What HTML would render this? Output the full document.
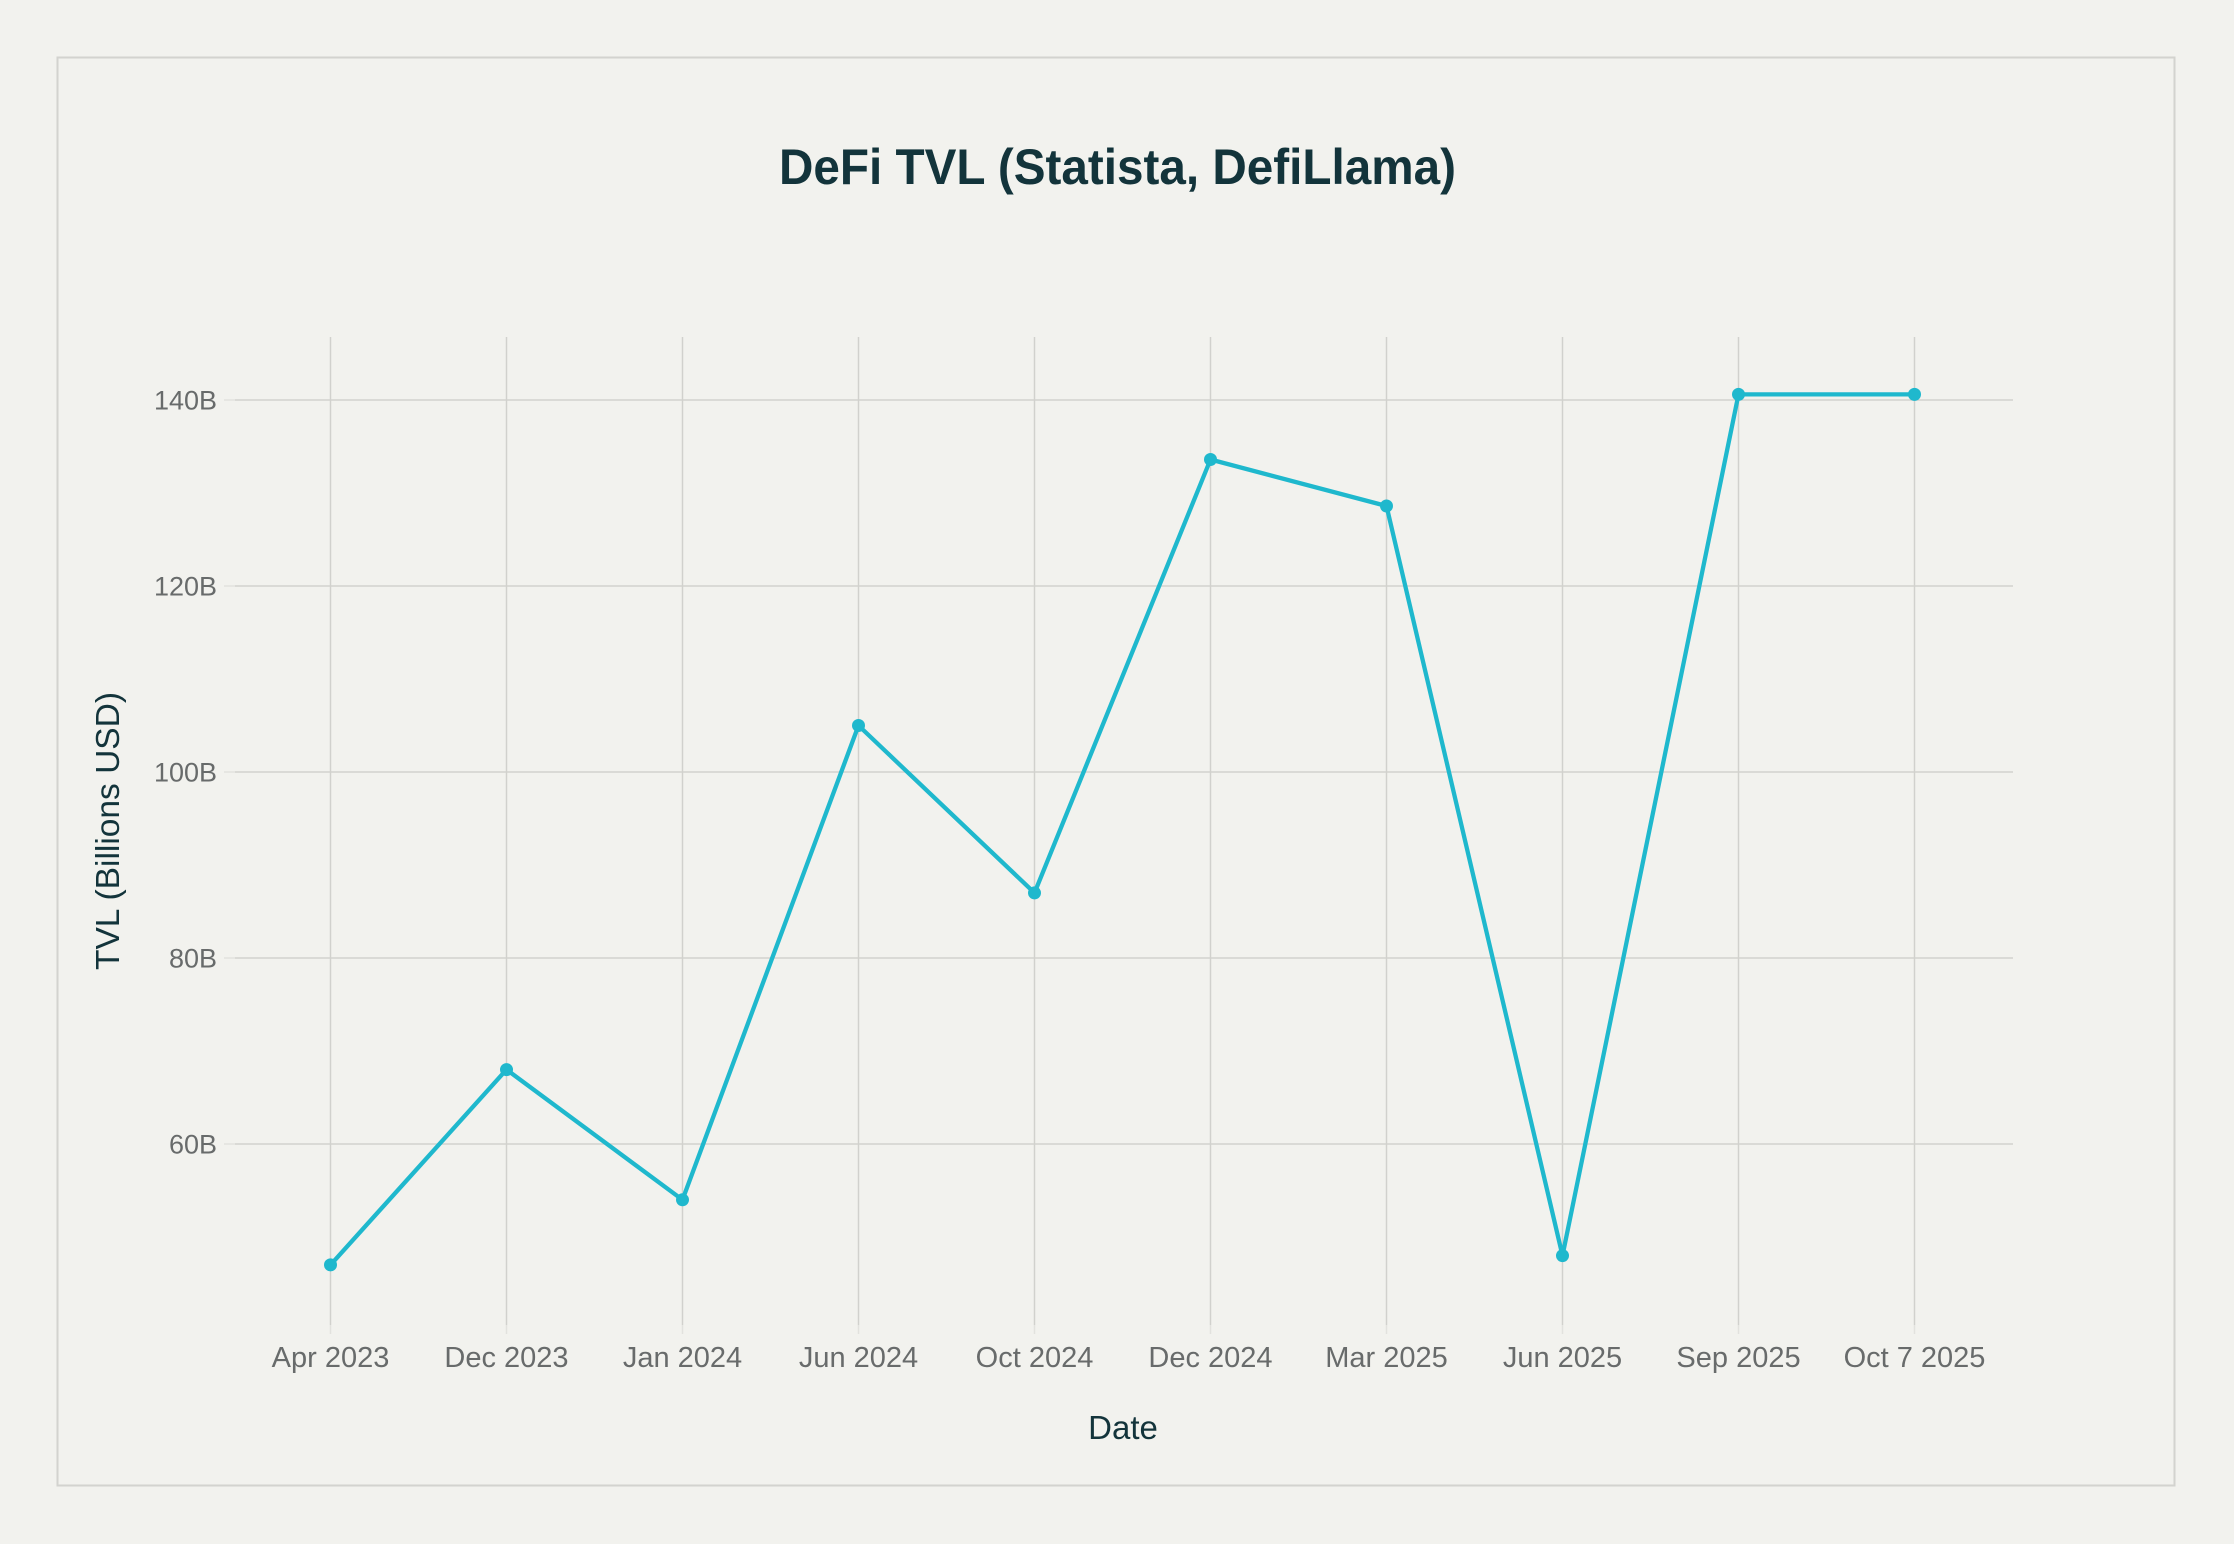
<!DOCTYPE html>
<html>
<head>
<meta charset="utf-8">
<style>
  html, body { margin: 0; padding: 0; background: #f2f2ee; }
  svg { display: block; }
</style>
</head>
<body>
<svg width="2234" height="1544" viewBox="0 0 2234 1544" xmlns="http://www.w3.org/2000/svg">
  <rect x="0" y="0" width="2234" height="1544" fill="#f2f2ee"/>
  <rect x="57.5" y="57.5" width="2117" height="1428" fill="#f2f2ee" stroke="#d3d3cf" stroke-width="2"/>

  <!-- Title -->
  <text x="1117.5" y="184" text-anchor="middle" font-family="Liberation Sans, sans-serif" font-weight="bold" font-size="50" fill="#13343b" textLength="677" lengthAdjust="spacingAndGlyphs">DeFi TVL (Statista, DefiLlama)</text>

  <!-- Horizontal gridlines -->
  <g stroke="#d1d1cd" stroke-width="1.5">
    <line x1="235" y1="400" x2="2013" y2="400"/>
    <line x1="235" y1="586" x2="2013" y2="586"/>
    <line x1="235" y1="772" x2="2013" y2="772"/>
    <line x1="235" y1="958" x2="2013" y2="958"/>
    <line x1="235" y1="1144" x2="2013" y2="1144"/>
  </g>
  <!-- y ticks -->
  <g stroke="#e2e2de" stroke-width="1.5">
    <line x1="224" y1="400" x2="235" y2="400"/>
    <line x1="224" y1="586" x2="235" y2="586"/>
    <line x1="224" y1="772" x2="235" y2="772"/>
    <line x1="224" y1="958" x2="235" y2="958"/>
    <line x1="224" y1="1144" x2="235" y2="1144"/>
  </g>

  <!-- Vertical gridlines -->
  <g stroke="#d1d1cd" stroke-width="1.5">
    <line x1="330.5" y1="337" x2="330.5" y2="1325"/>
    <line x1="506.5" y1="337" x2="506.5" y2="1325"/>
    <line x1="682.5" y1="337" x2="682.5" y2="1325"/>
    <line x1="858.5" y1="337" x2="858.5" y2="1325"/>
    <line x1="1034.5" y1="337" x2="1034.5" y2="1325"/>
    <line x1="1210.5" y1="337" x2="1210.5" y2="1325"/>
    <line x1="1386.5" y1="337" x2="1386.5" y2="1325"/>
    <line x1="1562.5" y1="337" x2="1562.5" y2="1325"/>
    <line x1="1738.5" y1="337" x2="1738.5" y2="1325"/>
    <line x1="1914.5" y1="337" x2="1914.5" y2="1325"/>
  </g>
  <g stroke="#e2e2de" stroke-width="1.5">
    <line x1="330.5" y1="1325" x2="330.5" y2="1334"/>
    <line x1="506.5" y1="1325" x2="506.5" y2="1334"/>
    <line x1="682.5" y1="1325" x2="682.5" y2="1334"/>
    <line x1="858.5" y1="1325" x2="858.5" y2="1334"/>
    <line x1="1034.5" y1="1325" x2="1034.5" y2="1334"/>
    <line x1="1210.5" y1="1325" x2="1210.5" y2="1334"/>
    <line x1="1386.5" y1="1325" x2="1386.5" y2="1334"/>
    <line x1="1562.5" y1="1325" x2="1562.5" y2="1334"/>
    <line x1="1738.5" y1="1325" x2="1738.5" y2="1334"/>
    <line x1="1914.5" y1="1325" x2="1914.5" y2="1334"/>
  </g>

  <!-- Y tick labels -->
  <g font-family="Liberation Sans, sans-serif" font-size="27" fill="#686b6b" text-anchor="end">
    <text x="217" y="409.5">140B</text>
    <text x="217" y="595.5">120B</text>
    <text x="217" y="781.5">100B</text>
    <text x="217" y="967.5">80B</text>
    <text x="217" y="1153.5">60B</text>
  </g>

  <!-- X tick labels -->
  <g font-family="Liberation Sans, sans-serif" font-size="29" fill="#686b6b" text-anchor="middle">
    <text x="330.5" y="1367">Apr 2023</text>
    <text x="506.5" y="1367">Dec 2023</text>
    <text x="682.5" y="1367">Jan 2024</text>
    <text x="858.5" y="1367">Jun 2024</text>
    <text x="1034.5" y="1367">Oct 2024</text>
    <text x="1210.5" y="1367">Dec 2024</text>
    <text x="1386.5" y="1367">Mar 2025</text>
    <text x="1562.5" y="1367">Jun 2025</text>
    <text x="1738.5" y="1367">Sep 2025</text>
    <text x="1914.5" y="1367">Oct 7 2025</text>
  </g>

  <!-- Axis titles -->
  <text x="1123" y="1439" text-anchor="middle" font-family="Liberation Sans, sans-serif" font-size="33" fill="#13343b">Date</text>
  <text transform="translate(119,831) rotate(-90)" x="0" y="0" text-anchor="middle" font-family="Liberation Sans, sans-serif" font-size="33" fill="#13343b" textLength="278" lengthAdjust="spacingAndGlyphs">TVL (Billions USD)</text>

  <!-- Series -->
  <polyline fill="none" stroke="#1fb8cd" stroke-width="4.3" stroke-linejoin="round" stroke-linecap="round"
    points="330.5,1264.9 506.5,1069.6 682.5,1199.8 858.5,725.5 1034.5,892.9 1210.5,459.5 1386.5,506 1562.5,1255.6 1738.5,394.4 1914.5,394.4"/>
  <g fill="#1fb8cd">
    <circle cx="330.5" cy="1264.9" r="6.5"/>
    <circle cx="506.5" cy="1069.6" r="6.5"/>
    <circle cx="682.5" cy="1199.8" r="6.5"/>
    <circle cx="858.5" cy="725.5" r="6.5"/>
    <circle cx="1034.5" cy="892.9" r="6.5"/>
    <circle cx="1210.5" cy="459.5" r="6.5"/>
    <circle cx="1386.5" cy="506" r="6.5"/>
    <circle cx="1562.5" cy="1255.6" r="6.5"/>
    <circle cx="1738.5" cy="394.4" r="6.5"/>
    <circle cx="1914.5" cy="394.4" r="6.5"/>
  </g>
</svg>
</body>
</html>
